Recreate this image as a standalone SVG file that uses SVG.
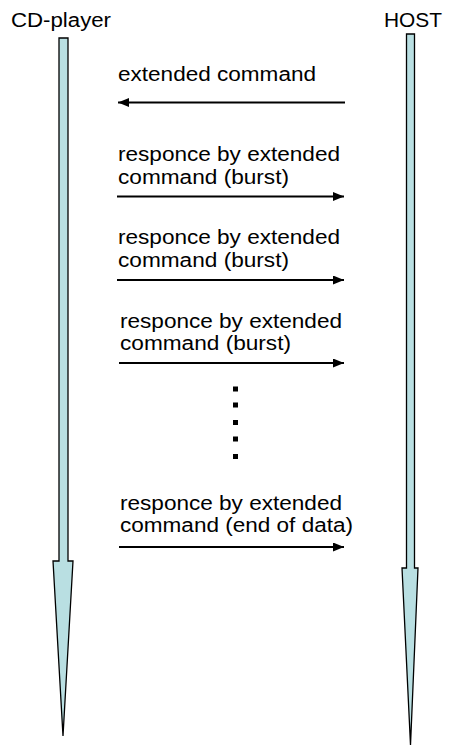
<svg xmlns="http://www.w3.org/2000/svg" width="449" height="745" viewBox="0 0 449 745">
<defs>
<style>
.t{font-family:"Liberation Sans",Arial,sans-serif;font-size:19.5px;fill:#000}
.life{fill:#B9DFE2;stroke:#000;stroke-width:1.3}
.msg{stroke:#000;stroke-width:1.8;fill:none}
.dot{fill:#000}
</style>
<marker id="ah" viewBox="0 0 11 9" refX="11" refY="4.5" markerWidth="11" markerHeight="9" markerUnits="userSpaceOnUse" orient="auto">
<path d="M0,0 L11,4.5 L0,9 Z" fill="#000"/>
</marker>
</defs>
<rect width="449" height="745" fill="#fff"/>
<g id="cd-player">
<text class="t" x="11" y="27" textLength="100" lengthAdjust="spacingAndGlyphs">CD-player</text>
<path class="life" d="M59,38 H68 V561 H73 L63,736 L53,561 H59 Z"/>
</g>
<g id="host">
<text class="t" x="384" y="27" textLength="58" lengthAdjust="spacingAndGlyphs">HOST</text>
<path class="life" d="M406.5,34 H414.5 V568 H418 L410.5,745 L402,568 H406.5 Z"/>
</g>
<g id="connectors">
<line class="msg" x1="345" y1="102.5" x2="118" y2="102.5" marker-end="url(#ah)"/>
<line class="msg" x1="117" y1="196.5" x2="344" y2="196.5" marker-end="url(#ah)"/>
<line class="msg" x1="117" y1="280" x2="344" y2="280" marker-end="url(#ah)"/>
<line class="msg" x1="119" y1="363" x2="344" y2="363" marker-end="url(#ah)"/>
<line class="msg" x1="119" y1="547" x2="344" y2="547" marker-end="url(#ah)"/>
</g>
<g id="labels">
<text class="t" x="118" y="81" textLength="198" lengthAdjust="spacingAndGlyphs">extended command</text>
<text class="t" x="118" y="161" textLength="222" lengthAdjust="spacingAndGlyphs">responce by extended</text>
<text class="t" x="118" y="183.5" textLength="171" lengthAdjust="spacingAndGlyphs">command (burst)</text>
<text class="t" x="118" y="244" textLength="222" lengthAdjust="spacingAndGlyphs">responce by extended</text>
<text class="t" x="118" y="266.5" textLength="171" lengthAdjust="spacingAndGlyphs">command (burst)</text>
<text class="t" x="120" y="328" textLength="222" lengthAdjust="spacingAndGlyphs">responce by extended</text>
<text class="t" x="120" y="350" textLength="171" lengthAdjust="spacingAndGlyphs">command (burst)</text>
<text class="t" x="120" y="509.5" textLength="222" lengthAdjust="spacingAndGlyphs">responce by extended</text>
<text class="t" x="120" y="532" textLength="233" lengthAdjust="spacingAndGlyphs">command (end of data)</text>
</g>
<g id="ellipsis">
<rect class="dot" x="233" y="386.5" width="5" height="5"/>
<rect class="dot" x="233" y="402.5" width="5" height="5"/>
<rect class="dot" x="233" y="420" width="5" height="5"/>
<rect class="dot" x="233" y="436.5" width="5" height="5"/>
<rect class="dot" x="233" y="454" width="5" height="5"/>
</g>
</svg>
